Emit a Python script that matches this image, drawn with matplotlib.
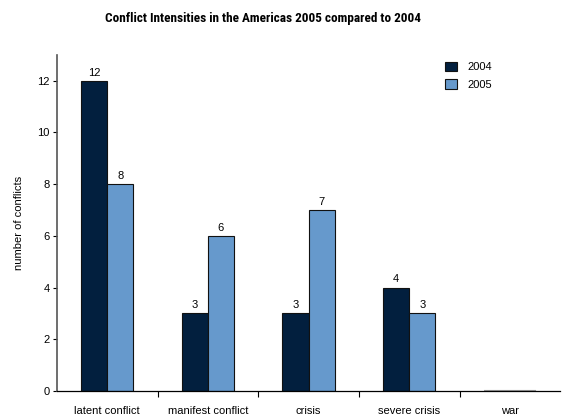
import matplotlib
matplotlib.use("Agg")
import matplotlib.pyplot as plt
import numpy as np
from matplotlib import font_manager

categories = ["latent conflict", "manifest conflict", "crisis", "severe crisis", "war"]
values_2004 = [12, 3, 3, 4, 0]
values_2005 = [8, 6, 7, 3, 0]
series_labels = ["2004", "2005"]
yticks = [0, 2, 4, 6, 8, 10, 12]

color_2004 = "#021f3e"
color_2005 = "#6699cc"

names = {f.name for f in font_manager.fontManager.ttflist}
condensed = [n for n in ["Liberation Sans Narrow", "Roboto Condensed",
                         "Open Sans Condensed", "DejaVu Sans Condensed"] if n in names]
title_family = condensed[0] if condensed else "Liberation Sans"

plt.rcParams["font.family"] = ["Liberation Sans", "DejaVu Sans"]

fig = plt.figure(figsize=(5.63, 4.19), dpi=100)
ax = fig.add_axes([0.101, 0.067, 0.894, 0.802])

x = np.arange(len(categories))
w = 0.26
for vals, off, col, lab in [(values_2004, -w / 2, color_2004, series_labels[0]),
                            (values_2005, w / 2, color_2005, series_labels[1])]:
    ax.bar(x + off, vals, width=w, color=col, edgecolor="#111111",
           linewidth=0.8, label=lab)
    for xi, v in zip(x + off, vals):
        if v > 0:
            ax.text(xi, v + 0.12, str(v), ha="center", va="bottom", fontsize=8)
        else:
            ax.plot([xi - w / 2, xi + w / 2], [0, 0], color="#888888", lw=1.5,
                    solid_capstyle="butt", zorder=3)

ax.set_xlim(-0.5, len(categories) - 0.5)
ax.set_ylim(0, 13)
ax.set_yticks(yticks)
ax.set_yticklabels([str(t) for t in yticks], fontsize=8)
ax.set_xticks(x)
ax.set_xticklabels(categories, fontsize=8)
ax.tick_params(axis="x", length=0, pad=11)
ax.tick_params(axis="y", length=3, width=0.8, pad=2)
ax.set_xticks(x[:-1] + 0.5, minor=True)
ax.tick_params(axis="x", which="minor", length=4, width=0.8, direction="out")

for s in ["top", "right"]:
    ax.spines[s].set_visible(False)
ax.spines["left"].set_color("#555555")
ax.spines["left"].set_linewidth(1.2)
ax.spines["bottom"].set_linewidth(0.9)

ax.set_ylabel("number of conflicts", fontsize=8, labelpad=10)

ax.legend(loc="upper right", bbox_to_anchor=(0.885, 1.01), frameon=False,
          fontsize=8, handlelength=1.0, handleheight=1.0,
          handletextpad=1.0, labelspacing=0.6)

title_size = 9.5 if condensed else 8.2
fig.text(0.467, 0.957, "Conflict Intensities in the Americas 2005 compared to 2004",
         ha="center", va="center", fontsize=title_size, fontweight="bold",
         family=title_family, fontstretch="condensed")

fig.savefig("out.png", dpi=100)
